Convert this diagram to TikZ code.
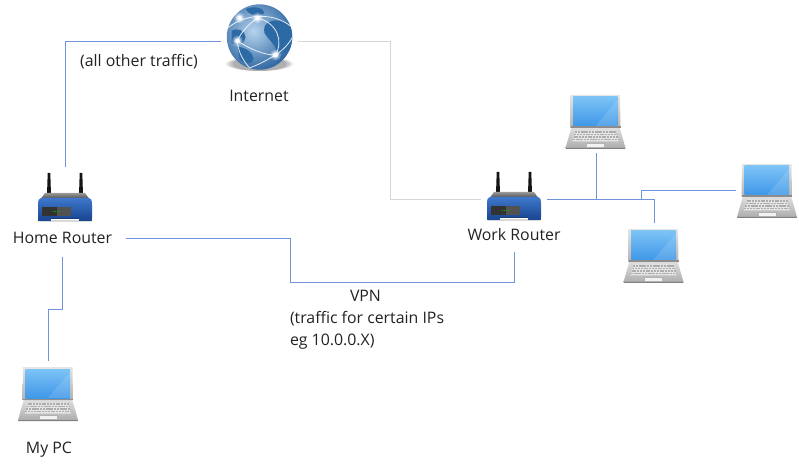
\documentclass[tikz,border=0pt]{standalone}
\usepackage{fontspec}
\setmainfont{Open Sans}
\usetikzlibrary{calc}
\definecolor{wireblue}{HTML}{6F94D8}
\definecolor{wiregray}{HTML}{D6D6D6}
\definecolor{txt}{HTML}{222222}
\definecolor{globeA}{HTML}{B5D3EC}
\definecolor{globeB}{HTML}{5E97CE}
\definecolor{globeC}{HTML}{235C9B}
\definecolor{landc}{HTML}{2C6AA6}
\definecolor{scrA}{HTML}{3F97E8}
\definecolor{scrB}{HTML}{7CC3F6}
\definecolor{routA}{HTML}{3F78CC}
\definecolor{routB}{HTML}{1C4A96}
\tikzset{
  iconbox/.style 2 args={minimum width=#1*0.75pt,minimum height=#2*0.75pt,inner sep=0pt,outer sep=0pt},
  wire/.style={draw=wireblue,line width=0.7pt},
  wirelight/.style={draw=wiregray,line width=0.7pt},
  lab/.style={font=\fontsize{11.9pt}{16.2pt}\selectfont,text=txt,inner sep=0pt,outer sep=0pt},
  laptop/.pic={
    \shade[top color=black!12,bottom color=black!32] (-24,5) -- (24,5) -- (30,26) -- (-30,26) -- cycle;
    \fill[black!50] (-30,26) -- (30,26) -- (29.5,27) -- (-29.5,27) -- cycle;
    \fill[black!10] (-20,8.5) -- (20,8.5) -- (23,19.5) -- (-23,19.5) -- cycle;
    \foreach \yy/\ww in {10/20.5,12.5/21.2,15/22,17.5/22.7}
      \draw[black!32,line width=0.9pt,dash pattern=on 1.6pt off 0.5pt] (-\ww,\yy) -- (\ww,\yy);
    \fill[black!5] (-9,21) rectangle (9,25);
    \draw[black!30,line width=0.3pt] (-9,21) rectangle (9,25);
    \shade[top color=black!10,bottom color=black!30] (-25,-27) -- (24.5,-27) -- (25,6) -- (-25.5,6) -- cycle;
    \fill[black!45] (-25,4.5) rectangle (25,6);
    \shade[top color=scrB,bottom color=scrA] (-22.5,-25) rectangle (22,4);
    \fill[white,opacity=.13] (22,-22) -- (22,4) -- (0,4) -- cycle;
  },
  routericon/.pic={
    \fill[black!92] (-18,-2) -- (-17.3,-24) -- (-14.7,-24) -- (-14,-2) -- cycle;
    \fill[black!92] (14,-2) -- (14.7,-24) -- (17.3,-24) -- (18,-2) -- cycle;
    \fill[black!15] (-26,23) rectangle (26,25);
    \shade[top color=black!40,bottom color=black!75] (-20,-4) -- (20,-4) -- (25,3) -- (-25,3) -- cycle;
    \shade[top color=routA,bottom color=routB] (-27,8) .. controls (-27,3) and (-26,1) .. (-24,1) -- (24,1) .. controls (26,1) and (27,3) .. (27,8) -- (27,21) -- (-27,21) -- cycle;
    \fill[routB] (-27,21) rectangle (-14,24);
    \fill[routB] (14,21) rectangle (27,24);
    \fill[routB!80!black] (-14,21) rectangle (14,22.5);
    \fill[black!80] (-23,10) rectangle (-8,19);
    \fill[black!68] (-8,10) rectangle (6,19);
    \foreach \xx in {-12,-10,-8,-6.5}
      \fill[green!75!black] (\xx,14) rectangle ++(1,1.4);
  },
  globeicon/.pic={
    \foreach \rr/\oo in {34/.06,32/.08,30/.1,27/.12}
      \fill[black,opacity=\oo] (0,27) ellipse ({\rr} and {7});
    \begin{scope}
      \clip (0,0) circle (32.7);
      \shade[inner color=globeA,outer color=globeC,shading=radial] (-6,-6) circle (44);
      \fill[landc] (-14,-28) .. controls (-6,-31) and (4,-30) .. (5,-24) .. controls (0,-20) and (-10,-21) .. (-14,-28) -- cycle;
      \fill[landc] (8,-14) .. controls (14,-19) and (28,-16) .. (34,-8) -- (34,10) .. controls (28,14) and (22,18) .. (17,14) .. controls (15,6) and (8,2) .. (5,-4) .. controls (4,-8) and (5,-12) .. (8,-14) -- cycle;
      \fill[landc] (-28,-6) .. controls (-22,-10) and (-14,-6) .. (-14,0) .. controls (-14,6) and (-22,10) .. (-28,6) -- cycle;
      \fill[landc] (-22,10) .. controls (-14,10) and (-6,16) .. (-6,22) .. controls (-8,28) and (-14,28) .. (-20,22) -- cycle;
      \draw[white,line width=0.6pt,opacity=.85]
        (-33,-8) .. controls (-15,-24) and (15,-25) .. (32,-10)
        (-22,4) .. controls (-8,13) and (5,18) .. (16,18)
        (16,18) .. controls (24,13) and (30,6) .. (33,0)
        (-2,-19) .. controls (-12,-12) and (-19,-4) .. (-22,4)
        (-22,4) .. controls (-22,14) and (-16,24) .. (-10,31)
        (16,18) .. controls (24,4) and (18,-14) .. (-2,-19)
        (16,18) .. controls (6,24) and (-2,28) .. (-10,31);
    \end{scope}
    \foreach \gx/\gy in {-20/-19,-2/-19,-22/4,16/18}{
      \fill[white,opacity=.25] (\gx,\gy) circle (5.5);
      \fill[white,opacity=.45] (\gx,\gy) circle (3.8);
      \fill[white,opacity=.95] (\gx,\gy) circle (2.4);
    }
  }
}
\begin{document}
\begin{tikzpicture}[x=0.75pt,y=-0.75pt]
\useasboundingbox (0,0) rectangle (799,466);
\node[iconbox={77}{74}] (globe) at (259.5,41) {};
\node[iconbox={60}{60}] (homeicon) at (65,197) {};
\node[iconbox={66}{56}] (workicon) at (514,199) {};
\node[iconbox={60}{66}] (pc) at (48,394) {};
\node[iconbox={60}{58}] (lapA) at (596,124) {};
\node[iconbox={62}{54}] (lapB) at (767,190) {};
\node[iconbox={60}{66}] (lapC) at (654,256) {};
\pic at (259.5,37) {globeicon};
\pic at (65,197) {routericon};
\pic at (514,196) {routericon};
\pic at (48,394) {laptop};
\pic at (595.5,122) {laptop};
\pic at (767,191) {laptop};
\pic at (653.5,256) {laptop};
\node[lab,minimum width=127*0.75pt,minimum height=38*0.75pt] (homelab) at (62.5,238) {Home Router};
\node[lab,minimum width=100*0.75pt,minimum height=36*0.75pt] (worklab) at (514,234.5) {Work Router};
\node[lab] (inet) at (259,96) {Internet};
\node[lab] (pclab) at (49,449.5) {My PC};
\node[lab] (other) at (139,62) {(all other traffic)};
\node[lab,align=left,anchor=north west] (vpn) at (290,290.5) {\hspace*{45pt}VPN\\(traffic for certain IPs\\eg 10.0.0.X)};
\coordinate (junA) at (lapA.south |- workicon.east);
\coordinate (junB) at (641,199);
\coordinate (mid) at (290,282);
\coordinate (pcbend) at ($(homelab.south)+(0,52)$);
\draw[wire] (homeicon.north) |- (globe.west);
\draw[wirelight] (globe.east) -- ++(92,0) |- (workicon.west);
\draw[wire] (homelab.east) -| (mid) -| (worklab.south);
\draw[wire] (homelab.south) -- (pcbend) -| (pc.north);
\draw[wire] (workicon.east) -| (lapC.north);
\draw[wire] (lapA.south) -- (junA);
\draw[wire] (junB) |- (lapB.west);
\end{tikzpicture}
\end{document}
